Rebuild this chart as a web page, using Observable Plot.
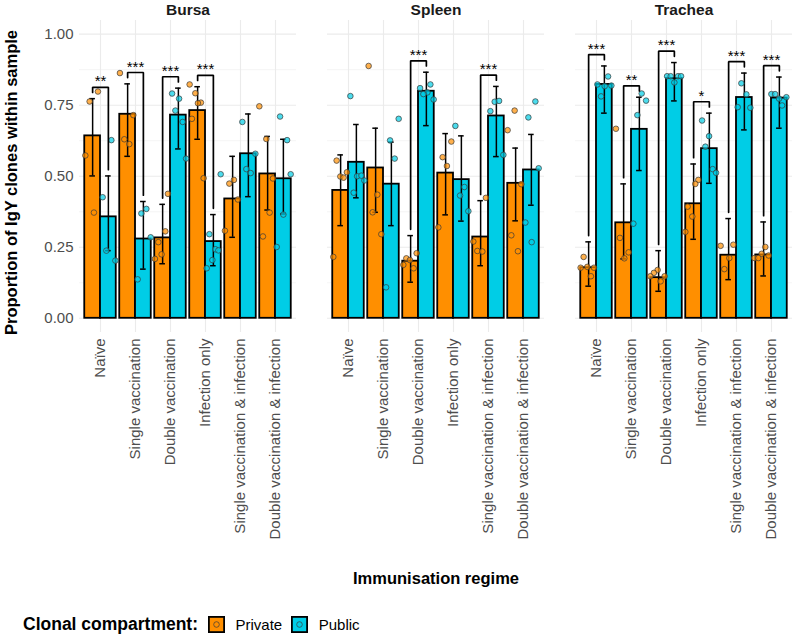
<!DOCTYPE html>
<html><head><meta charset="utf-8">
<script src="https://cdn.jsdelivr.net/npm/d3@7"></script>
<script src="https://cdn.jsdelivr.net/npm/@observablehq/plot@0.6"></script>
<style>
body{margin:0;background:#fff;font-family:"Liberation Sans",Arial,sans-serif;}
#wrap{position:relative;width:792px;height:635px;overflow:hidden;}
#chart svg{overflow:visible;}
#legend{position:absolute;left:23px;top:612px;height:24px;display:flex;align-items:center;font-size:15px;color:#000;white-space:nowrap;}
#legend .ttl{font-weight:bold;font-size:17.5px;}
#legend svg{display:block;}
</style></head>
<body><div id="wrap"><div id="chart"></div><div id="legend"></div></div>
<script>
const tissues = ["Bursa", "Spleen", "Trachea"];
const regimes = ["Naïve", "Single vaccination", "Double vaccination", "Infection only",
  "Single vaccination & infection", "Double vaccination & infection"];
const compartments = ["Private", "Public"];
const compartmentColors = ["#FF8F00", "#00CDE6"];
const yTicks = [0, 0.25, 0.5, 0.75, 1];
const yMinorTicks = [0.125, 0.375, 0.625, 0.875];

// mean proportion, rows = tissue, columns = regime
const privateMean = [
  [0.642, 0.718, 0.283, 0.731, 0.420, 0.508],
  [0.450, 0.529, 0.201, 0.511, 0.286, 0.475],
  [0.178, 0.336, 0.143, 0.403, 0.222, 0.223]];
const privateLow = [
  [0.501, 0.570, 0.192, 0.630, 0.285, 0.381],
  [0.326, 0.373, 0.127, 0.364, 0.185, 0.343],
  [0.113, 0.209, 0.095, 0.278, 0.136, 0.149]];
const privateHigh = [
  [0.773, 0.825, 0.401, 0.815, 0.570, 0.640],
  [0.575, 0.669, 0.291, 0.650, 0.414, 0.599],
  [0.269, 0.473, 0.238, 0.543, 0.351, 0.339]];
const publicMean = [
  [0.357, 0.279, 0.715, 0.270, 0.579, 0.491],
  [0.549, 0.472, 0.799, 0.488, 0.712, 0.522],
  [0.823, 0.665, 0.844, 0.597, 0.777, 0.775]];
const publicLow = [
  [0.238, 0.173, 0.596, 0.185, 0.428, 0.367],
  [0.424, 0.326, 0.678, 0.342, 0.569, 0.398],
  [0.722, 0.520, 0.765, 0.475, 0.663, 0.669]];
const publicHigh = [
  [0.501, 0.411, 0.810, 0.365, 0.719, 0.630],
  [0.682, 0.620, 0.866, 0.642, 0.816, 0.647],
  [0.888, 0.778, 0.900, 0.722, 0.863, 0.849]];

// individual samples (per regime)
const bursaPrivateVals = [
  [0.763, 0.798, 0.573, 0.372], [0.863, 0.715, 0.630, 0.613],
  [0.438, 0.306, 0.268, 0.225, 0.209], [0.823, 0.792, 0.759, 0.757, 0.702, 0.493],
  [0.474, 0.487, 0.418, 0.308], [0.746, 0.631, 0.492, 0.372, 0.288]];
const bursaPublicVals = [
  [0.627, 0.426, 0.238, 0.203], [0.369, 0.385, 0.137, 0.285],
  [0.791, 0.773, 0.731, 0.691, 0.562], [0.296, 0.243, 0.239, 0.205, 0.176, 0.507],
  [0.691, 0.579, 0.525, 0.511], [0.710, 0.627, 0.507, 0.365, 0.251]];
const spleenPrivateVals = [
  [0.555, 0.499, 0.495, 0.514, 0.216], [0.888, 0.435, 0.373, 0.296],
  [0.229, 0.211, 0.205, 0.188, 0.176], [0.622, 0.567, 0.536, 0.320],
  [0.424, 0.270, 0.237, 0.235], [0.731, 0.662, 0.472, 0.292, 0.236]];
const spleenPublicVals = [
  [0.782, 0.500, 0.502, 0.485, 0.442], [0.702, 0.626, 0.562, 0.109],
  [0.810, 0.823, 0.795, 0.789, 0.770], [0.677, 0.462, 0.432, 0.377],
  [0.729, 0.762, 0.765, 0.575], [0.763, 0.707, 0.528, 0.337, 0.268]];
const tracheaPrivateVals = [
  [0.216, 0.178, 0.181, 0.178, 0.148], [0.667, 0.283, 0.232, 0.211],
  [0.170, 0.160, 0.148, 0.148, 0.130], [0.487, 0.473, 0.393, 0.358, 0.304],
  [0.255, 0.259, 0.212, 0.173], [0.251, 0.227, 0.221, 0.212, 0.212]];
const tracheaPublicVals = [
  [0.851, 0.823, 0.817, 0.819, 0.781], [0.791, 0.766, 0.715, 0.333],
  [0.852, 0.852, 0.852, 0.852, 0.830], [0.696, 0.641, 0.604, 0.525, 0.512],
  [0.827, 0.788, 0.743, 0.741], [0.789, 0.789, 0.778, 0.773, 0.749]];

// horizontal jitter of each sample (in 1/35 of a category step)
const bursaPrivateJitter = [
  [-3, 5.3, -7.3, 1.3], [-7.7, 5.7, -3.3, 1.7], [5.3, 2.7, -4.3, -1, -7.7],
  [-8, -2.3, 3.3, 0.3, -5.7, 6], [-3.3, 1.3, 5.3, -7.7], [-8.3, -1.3, 5.3, 2, -4.7]];
const bursaPublicJitter = [
  [3, -5.7, -2, 7], [-2, 3, -5.7, 7.3], [-6.3, 0.7, -3, 4.3, 7.7],
  [-4, 2, 5, -1, -6.7, 7.3], [-6, 7, -2, 2.3], [-3.3, 3.7, 7.3, 0, -6.7]];
const spleenPrivateJitter = [
  [-4, -0.3, 3, 6.3, -7.3], [-7, 1.7, -3, 5.7], [6, -4.3, -0.7, -7.3, 3],
  [5.7, -3, 1.3, -7.3], [5.3, -7.3, -3.3, 1.7], [-1, -8, 5.7, -4.3, 2.3]];
const spleenPublicJitter = [
  [-6, 0.7, 5, 8, -2.7], [7.3, -1.3, 3.3, -5.3], [-6.3, 4, 1, -3, 7.3],
  [-6, 3, -1.3, 7], [-6, -1.7, 2.7, 7], [4, -3, 7.3, -6, 0.3]];
const tracheaPrivateJitter = [
  [-5, -8, -1.3, 5.3, 2.3], [-7.7, -3.7, 5, 0.7], [-1, -4.7, -8.3, 6, 2],
  [4.7, 1.7, -6, -1.3, -8.3], [-8, 4.7, 0.7, -4.3], [1.7, -2, 5, -9.3, -5.3]];
const tracheaPublicJitter = [
  [3.7, -7, 0.3, 7, -3.3], [2.3, 6.7, -2, -6], [-7.3, -3.7, 3.7, 6.7, 0],
  [-7.3, -0.3, -4, 3.3, 6.7], [-3, 2, -6.7, 6], [-8, -4.3, 7, -0.3, 2.7]];

// significance annotations
const sigTissue = ["Bursa", "Bursa", "Bursa", "Bursa", "Spleen", "Spleen",
  "Trachea", "Trachea", "Trachea", "Trachea", "Trachea", "Trachea"];
const sigRegime = ["Naïve", "Single vaccination", "Double vaccination", "Infection only",
  "Double vaccination", "Single vaccination & infection",
  "Naïve", "Single vaccination", "Double vaccination", "Infection only",
  "Single vaccination & infection", "Double vaccination & infection"];
const sigLabel = ["**", "***", "***", "***", "***", "***", "***", "**", "***", "*", "***", "***"];

// ---- build tables ----
const HALF = 0.225;
const CAP = 0.08;
const STEP = 35;
const stats = {
  Private: {mean: privateMean, lo: privateLow, hi: privateHigh,
    vals: [bursaPrivateVals, spleenPrivateVals, tracheaPrivateVals],
    jit: [bursaPrivateJitter, spleenPrivateJitter, tracheaPrivateJitter]},
  Public: {mean: publicMean, lo: publicLow, hi: publicHigh,
    vals: [bursaPublicVals, spleenPublicVals, tracheaPublicVals],
    jit: [bursaPublicJitter, spleenPublicJitter, tracheaPublicJitter]}
};
const bars = [], caps = [], pts = [], xlabels = [];
tissues.forEach((t, ti) => {
  regimes.forEach((r, ri) => {
    xlabels.push({tissue: t, i: ri, name: r});
    compartments.forEach((c, ci) => {
      const s = stats[c];
      const side = ci === 0 ? -1 : 1;
      const xc = ri + side * HALF;
      bars.push({tissue: t, comp: c, x1: ci === 0 ? ri - 2 * HALF : ri, x2: ci === 0 ? ri : ri + 2 * HALF,
        xc, mean: s.mean[ti][ri], lo: s.lo[ti][ri], hi: s.hi[ti][ri]});
      caps.push({tissue: t, x: xc, y: s.lo[ti][ri]}, {tissue: t, x: xc, y: s.hi[ti][ri]});
      s.vals[ti][ri].forEach((v, k) => {
        pts.push({tissue: t, comp: c, x: xc + s.jit[ti][ri][k] / STEP, y: v});
      });
    });
  });
});
const bracketPts = [], stars = [];
sigLabel.forEach((lab, k) => {
  const ti = tissues.indexOf(sigTissue[k]);
  const ri = regimes.indexOf(sigRegime[k]);
  const hp = privateHigh[ti][ri], hq = publicHigh[ti][ri];
  const top = Math.max(hp, hq) + 0.04;
  const t = sigTissue[k];
  bracketPts.push(
    {id: k, tissue: t, x: ri - HALF, y: hp + 0.022},
    {id: k, tissue: t, x: ri - HALF, y: top},
    {id: k, tissue: t, x: ri + HALF, y: top},
    {id: k, tissue: t, x: ri + HALF, y: hq + 0.022});
  stars.push({tissue: t, x: ri, y: top, label: lab});
});

const plot = Plot.plot({
  width: 792, height: 595,
  marginLeft: 79, marginRight: 0, marginTop: 20, marginBottom: 263,
  style: {fontFamily: "'Liberation Sans', Arial, sans-serif", background: "transparent", color: "#000"},
  fx: {domain: tissues, paddingInner: 0.125, paddingOuter: 0, axis: null, label: null},
  x: {domain: [-0.6, 5.6], axis: null},
  y: {domain: [-0.05, 1.048], axis: null},
  color: {domain: compartments, range: compartmentColors},
  marks: [
    Plot.gridY({ticks: yMinorTicks, stroke: "#eeeeee", strokeOpacity: 1, strokeWidth: 0.6}),
    Plot.gridY({ticks: yTicks, stroke: "#ebebeb", strokeOpacity: 1, strokeWidth: 1.1}),
    Plot.gridX({ticks: d3.range(regimes.length), stroke: "#ebebeb", strokeOpacity: 1, strokeWidth: 1.1}),
    Plot.axisY({ticks: yTicks, tickFormat: d3.format(".2f"), tickSize: 0, tickPadding: 6,
      fontSize: 15, fill: "#4d4d4d", label: null}),
    Plot.rectY(bars, {fx: "tissue", x1: "x1", x2: "x2", y1: 0, y2: "mean", fill: "comp",
      stroke: "#000", strokeWidth: 1.8}),
    Plot.ruleX(bars, {fx: "tissue", x: "xc", y1: "lo", y2: "hi", stroke: "#000", strokeWidth: 1.5}),
    Plot.ruleY(caps, {fx: "tissue", x1: d => d.x - CAP, x2: d => d.x + CAP, y: "y", stroke: "#000", strokeWidth: 1.5}),
    Plot.dot(pts, {fx: "tissue", x: "x", y: "y", r: 2.8, fill: "comp", fillOpacity: 0.7,
      stroke: "#3a3a3a", strokeWidth: 0.7}),
    Plot.line(bracketPts, {fx: "tissue", x: "x", y: "y", z: "id", stroke: "#000", strokeWidth: 1.7,
      strokeLinejoin: "miter"}),
    Plot.text(stars, {fx: "tissue", x: "x", y: "y", text: "label", lineAnchor: "bottom", dy: -1,
      fontSize: 15, fill: "#000"}),
    Plot.text(xlabels, {fx: "tissue", x: "i", text: "name", frameAnchor: "bottom", dy: 6,
      rotate: -90, textAnchor: "end", lineAnchor: "middle", fontSize: 15, fill: "#4d4d4d"}),
    Plot.text(tissues, {fx: d => d, text: d => d, frameAnchor: "top", dy: -6, lineAnchor: "bottom",
      fontWeight: "bold", fontSize: 15.5, fill: "#1a1a1a"}),
    Plot.text(["Proportion of IgY clones within sample"], {fx: () => tissues[0], text: d => d,
      frameAnchor: "left", dx: -68, dy: 6, rotate: -90, textAnchor: "middle", lineAnchor: "middle",
      fontWeight: "bold", fontSize: 16.5, fill: "#000"}),
    Plot.text(["Immunisation regime"], {fx: () => tissues[1], text: d => d, frameAnchor: "bottom",
      dy: 251, textAnchor: "middle", lineAnchor: "bottom", fontWeight: "bold", fontSize: 16.5, fill: "#000"})
  ]
});
document.getElementById("chart").appendChild(plot);

// legend
const colorScale = plot.scale("color");
const legend = document.getElementById("legend");
const ttl = document.createElement("span");
ttl.className = "ttl";
ttl.textContent = "Clonal compartment:";
legend.appendChild(ttl);
colorScale.domain.forEach((c, i) => {
  const col = colorScale.range[i];
  const sw = document.createElementNS("http://www.w3.org/2000/svg", "svg");
  sw.setAttribute("width", 17); sw.setAttribute("height", 17);
  sw.style.marginLeft = i === 0 ? "10px" : "9px";
  sw.innerHTML = `<rect x="0.9" y="0.9" width="15.2" height="15.2" fill="${col}" stroke="#000" stroke-width="1.8"/>
    <circle cx="8.5" cy="8.5" r="2.8" fill="${col}" fill-opacity="0.7" stroke="#3a3a3a" stroke-width="0.7"/>`;
  legend.appendChild(sw);
  const lab = document.createElement("span");
  lab.textContent = c;
  lab.style.marginLeft = "10.5px";
  legend.appendChild(lab);
});
</script></body></html>
